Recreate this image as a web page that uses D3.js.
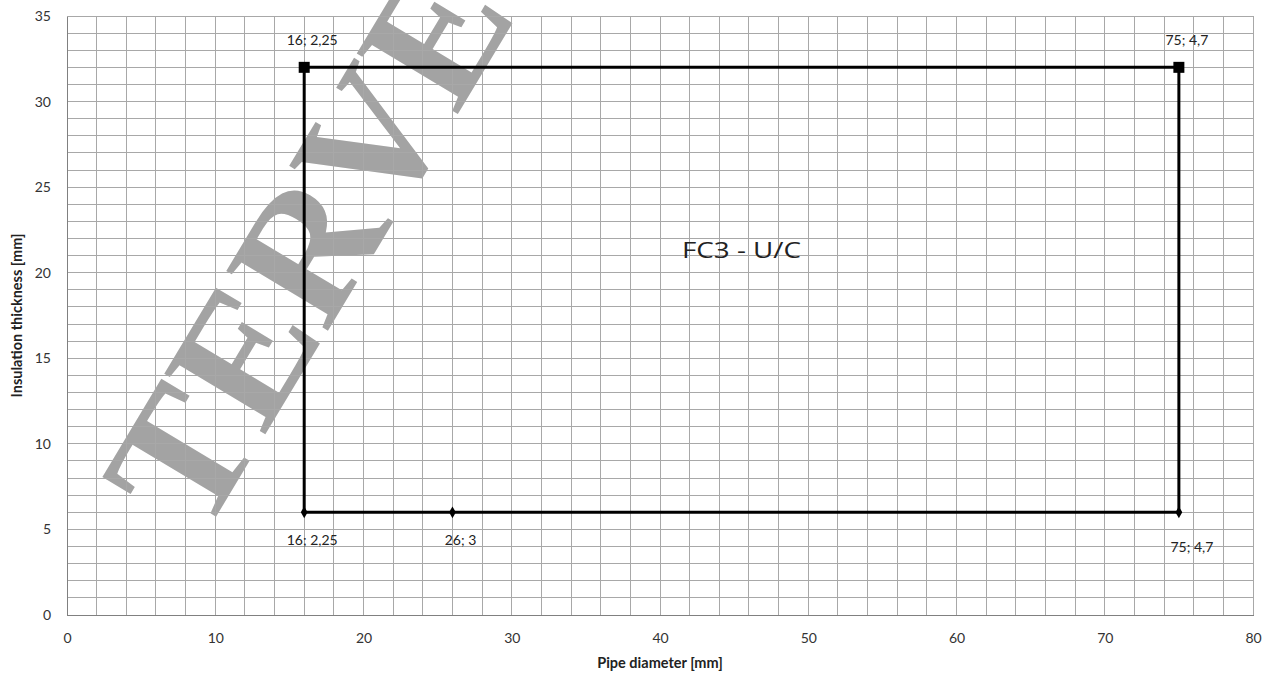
<!DOCTYPE html>
<html>
<head>
<meta charset="utf-8">
<script src="https://cdn.jsdelivr.net/npm/d3@7"></script>
<style>
  html, body { margin: 0; padding: 0; background: #fff; }
  svg { display: block; }
</style>
</head>
<body>
<svg id="chart" width="1269" height="673"></svg>
<script>
// ---- data ----
const xTicks = [0, 10, 20, 30, 40, 50, 60, 70, 80];
const yTicks = [0, 5, 10, 15, 20, 25, 30, 35];
const xMinor = d3.range(0, 81, 2);
const yMinor = d3.range(0, 36, 1);

const topX = [16, 75];
const topY = [32, 32];
const topLabels = ["16; 2,25", "75; 4,7"];

const bottomX = [16, 26, 75];
const bottomY = [6, 6, 6];
const bottomLabels = ["16; 2,25", "26; 3", "75; 4,7"];

const leftX = [16, 16];
const leftY = [6, 32];
const rightX = [75, 75];
const rightY = [6, 32];

const xTitle = "Pipe diameter [mm]";
const yTitle = "Insulation thickness [mm]";
const zoneLabel = "FC3 - U/C";
const zoneX = 45.5, zoneY = 21.3;
const watermark = "TERVE";

// ---- layout ----
const svg = d3.select("#chart");
const pL = 67, pR = 1253, pT = 16, pB = 615;
const x = d3.scaleLinear().domain([0, 80]).range([pL, pR]);
const y = d3.scaleLinear().domain([0, 35]).range([pB, pT]);
const FONT = "Lato, 'Open Sans', sans-serif";

// watermark (behind everything)
svg.append("text")
  .attr("transform", "translate(202,540) rotate(-59)")
  .style("font-family", "'Liberation Serif', 'DejaVu Serif', serif")
  .style("font-weight", "bold")
  .style("font-size", "180px")
  .style("letter-spacing", "0px")
  .style("fill", "#a3a3a3")
  .text(watermark);

// grid
const grid = svg.append("g");
grid.selectAll("line.v").data(xMinor).enter().append("line")
  .attr("x1", d => x(d)).attr("x2", d => x(d))
  .attr("y1", pT).attr("y2", pB)
  .attr("stroke", "#a8a8a8").attr("stroke-width", 1)
  .attr("shape-rendering", "crispEdges");
grid.selectAll("line.h").data(yMinor).enter().append("line")
  .attr("x1", pL).attr("x2", pR)
  .attr("y1", d => y(d)).attr("y2", d => y(d))
  .attr("stroke", "#a8a8a8").attr("stroke-width", 1)
  .attr("shape-rendering", "crispEdges");

// axes
const xAxis = d3.axisBottom(x).tickValues(xTicks).tickSize(0).tickPadding(18);
const yAxis = d3.axisLeft(y).tickValues(yTicks).tickSize(0).tickPadding(16);
const gx = svg.append("g").attr("transform", `translate(0,${pB})`).call(xAxis);
const gy = svg.append("g").attr("transform", `translate(${pL},0)`).call(yAxis);
[gx, gy].forEach(g => {
  g.select(".domain").attr("stroke", "#808080").attr("shape-rendering", "crispEdges");
  g.selectAll("text").style("font-family", FONT).style("font-size", "14px").style("fill", "#333");
});

// axis titles
svg.append("text")
  .attr("x", (pL + pR) / 2).attr("y", 668)
  .attr("text-anchor", "middle")
  .style("font-family", FONT).style("font-size", "14.5px").style("font-weight", "bold").style("fill", "#222")
  .text(xTitle);
svg.append("text")
  .attr("transform", `translate(22,${(pT + pB) / 2}) rotate(-90)`)
  .attr("text-anchor", "middle")
  .style("font-family", FONT).style("font-size", "14.5px").style("font-weight", "bold").style("fill", "#222")
  .text(yTitle);

// lines
const line = d3.line().x(d => x(d[0])).y(d => y(d[1]));
const series = [
  d3.zip(topX, topY),
  d3.zip(bottomX, bottomY),
  d3.zip(leftX, leftY),
  d3.zip(rightX, rightY)
];
svg.append("g").selectAll("path").data(series).enter().append("path")
  .attr("d", line)
  .attr("fill", "none").attr("stroke", "#000").attr("stroke-width", 3);

// markers
const topPts = d3.zip(topX, topY, topLabels);
const botPts = d3.zip(bottomX, bottomY, bottomLabels);
svg.append("g").selectAll("path").data(topPts).enter().append("path")
  .attr("d", d3.symbol().type(d3.symbolSquare).size(121))
  .attr("transform", d => `translate(${x(d[0])},${y(d[1])})`)
  .attr("fill", "#000");
svg.append("g").selectAll("path").data(botPts).enter().append("path")
  .attr("d", d3.symbol().type(d3.symbolDiamond).size(40))
  .attr("transform", d => `translate(${x(d[0])},${y(d[1])})`)
  .attr("fill", "#000");

// data labels
svg.append("g").selectAll("text").data(topPts).enter().append("text")
  .attr("x", d => x(d[0]) + 8).attr("y", d => y(d[1]) - 22)
  .attr("text-anchor", "middle")
  .style("font-family", FONT).style("font-size", "14px").style("fill", "#222")
  .text(d => d[2]);
svg.append("g").selectAll("text").data(botPts).enter().append("text")
  .attr("x", (d, i) => x(d[0]) + (i === botPts.length - 1 ? 13 : 8))
  .attr("y", (d, i) => y(d[1]) + 33 + (i === botPts.length - 1 ? 7 : 0))
  .attr("text-anchor", "middle")
  .style("font-family", FONT).style("font-size", "14px").style("fill", "#222")
  .text(d => d[2]);

// zone label
svg.append("text")
  .attr("x", x(zoneX)).attr("y", y(zoneY) + 8)
  .attr("text-anchor", "middle")
  .style("font-family", "'Open Sans', sans-serif").style("font-size", "22px").style("fill", "#222")
  .attr("textLength", 119).attr("lengthAdjust", "spacingAndGlyphs")
  .text(zoneLabel);
</script>
</body>
</html>
